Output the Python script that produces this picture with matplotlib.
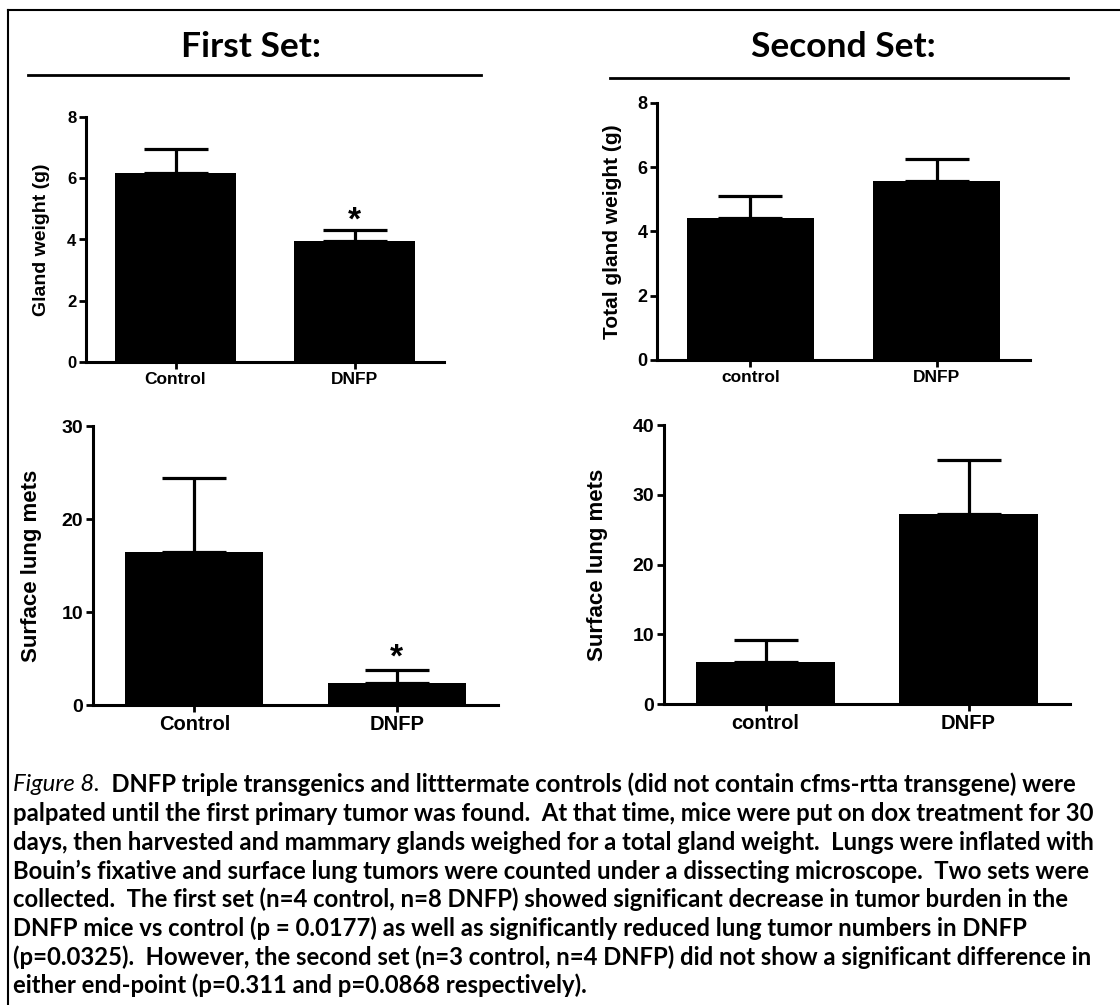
import matplotlib
matplotlib.use("Agg")
import matplotlib.pyplot as plt
from matplotlib.lines import Line2D

# ---- data ----
groups_first = ["Control", "DNFP"]
groups_second = ["control", "DNFP"]

gland_first = [6.17, 3.95]
gland_first_err = [0.78, 0.36]

gland_second = [4.42, 5.57]
gland_second_err = [0.68, 0.69]

mets_first = [16.5, 2.4]
mets_first_err = [7.9, 1.4]

mets_second = [6.0, 27.2]
mets_second_err = [3.2, 7.8]

caption_lines = [
    "palpated until the first primary tumor was found.  At that time, mice were put on dox treatment for 30",
    "days, then harvested and mammary glands weighed for a total gland weight.  Lungs were inflated with",
    "Bouin\u2019s fixative and surface lung tumors were counted under a dissecting microscope.  Two sets were",
    "collected.  The first set (n=4 control, n=8 DNFP) showed significant decrease in tumor burden in the",
    "DNFP mice vs control (p = 0.0177) as well as significantly reduced lung tumor numbers in DNFP",
    "(p=0.0325).  However, the second set (n=3 control, n=4 DNFP) did not show a significant difference in",
    "either end-point (p=0.311 and p=0.0868 respectively).",
]
caption_first = "  DNFP triple transgenics and litttermate controls (did not contain cfms-rtta transgene) were"

W, H = 1120, 1005
fig = plt.figure(figsize=(W / 100, H / 100), dpi=100)


def px_axes(left, top, right, bottom):
    return fig.add_axes([left / W, 1 - bottom / H, (right - left) / W, (bottom - top) / H])


def bar_panel(ax, labels, vals, errs, ymax, step, ylabel, tick_fs, lab_fs, xlab_fs, lab_x, stars=None):
    x = range(len(vals))
    ax.bar(x, vals, width=0.68, color="black")
    ax.errorbar(x, vals, yerr=[[0] * len(errs), errs], fmt="none", ecolor="black",
                elinewidth=2.3, capsize=23, capthick=2.3)
    ax.set_xlim(-0.5, 1.5)
    ax.set_ylim(0, ymax)
    ax.set_yticks(range(0, ymax + 1, step))
    ax.set_xticks(list(x))
    ax.set_xticklabels(labels, fontsize=xlab_fs, fontweight="bold", family="Liberation Sans")
    for t in ax.get_yticklabels():
        t.set_fontsize(tick_fs)
        t.set_fontweight("bold")
        t.set_family("Liberation Sans")
    for s in ["top", "right"]:
        ax.spines[s].set_visible(False)
    for s in ["left", "bottom"]:
        ax.spines[s].set_linewidth(2.2)
    ax.tick_params(direction="out", width=2.0, length=5, pad=2)
    ax.set_ylabel(ylabel, fontsize=lab_fs, fontweight="bold", family="Liberation Sans")
    ax.yaxis.set_label_coords(lab_x, 0.5)
    if stars:
        for xi, yv in stars:
            ax.text(xi, yv, "*", ha="center", va="center", fontsize=24,
                    fontweight="bold", family="Liberation Sans")


ax1 = px_axes(86, 117, 444, 362)
bar_panel(ax1, groups_first, gland_first, gland_first_err, 8, 2, "Gland weight (g)",
          12, 14, 12.5, -0.10, stars=[(1, 4.6)])

ax2 = px_axes(657, 103, 1030, 360)
bar_panel(ax2, groups_second, gland_second, gland_second_err, 8, 2, "Total gland weight (g)",
          13, 15, 12.5, -0.094)

ax3 = px_axes(93, 426, 498, 705)
bar_panel(ax3, groups_first, mets_first, mets_first_err, 30, 10, "Surface lung mets",
          14, 16, 14.5, -0.126, stars=[(1, 5.1)])

ax4 = px_axes(664, 425, 1070, 704)
bar_panel(ax4, groups_second, mets_second, mets_second_err, 40, 10, "Surface lung mets",
          14, 16, 14.5, -0.138)

# ---- section titles and rules ----
fig.text(251 / W, 1 - 47 / H, "First Set:", ha="center", va="center",
         fontsize=25.5, fontweight="bold", family="Lato")
fig.text(843 / W, 1 - 47 / H, "Second Set:", ha="center", va="center",
         fontsize=25.5, fontweight="bold", family="Lato")
fig.add_artist(Line2D([28 / W, 481 / W], [1 - 75 / H, 1 - 75 / H], color="black", lw=2))
fig.add_artist(Line2D([610 / W, 1068 / W], [1 - 78 / H, 1 - 78 / H], color="black", lw=2))

# frame lines (left and top only)
fig.add_artist(Line2D([8 / W, 8 / W], [0, 1 - 10 / H], color="black", lw=1.5))
fig.add_artist(Line2D([8 / W, 1], [1 - 10 / H, 1 - 10 / H], color="black", lw=1.5))

# ---- caption ----
cap_fs = 17.2
line_y = [784, 813, 842, 871, 899, 928, 957, 985]
t0 = fig.text(13 / W, 1 - line_y[0] / H, "Figure 8.", ha="left", va="center",
              fontsize=cap_fs, style="italic", family="Lato")
fig.canvas.draw()
bb = t0.get_window_extent()
fig.text(bb.x1 / W, 1 - line_y[0] / H, caption_first, ha="left", va="center",
         fontsize=cap_fs, fontweight="bold", family="Lato")
for yy, line in zip(line_y[1:], caption_lines):
    fig.text(13 / W, 1 - yy / H, line, ha="left", va="center",
             fontsize=cap_fs, fontweight="bold", family="Lato")

fig.savefig("out.png", dpi=100)
